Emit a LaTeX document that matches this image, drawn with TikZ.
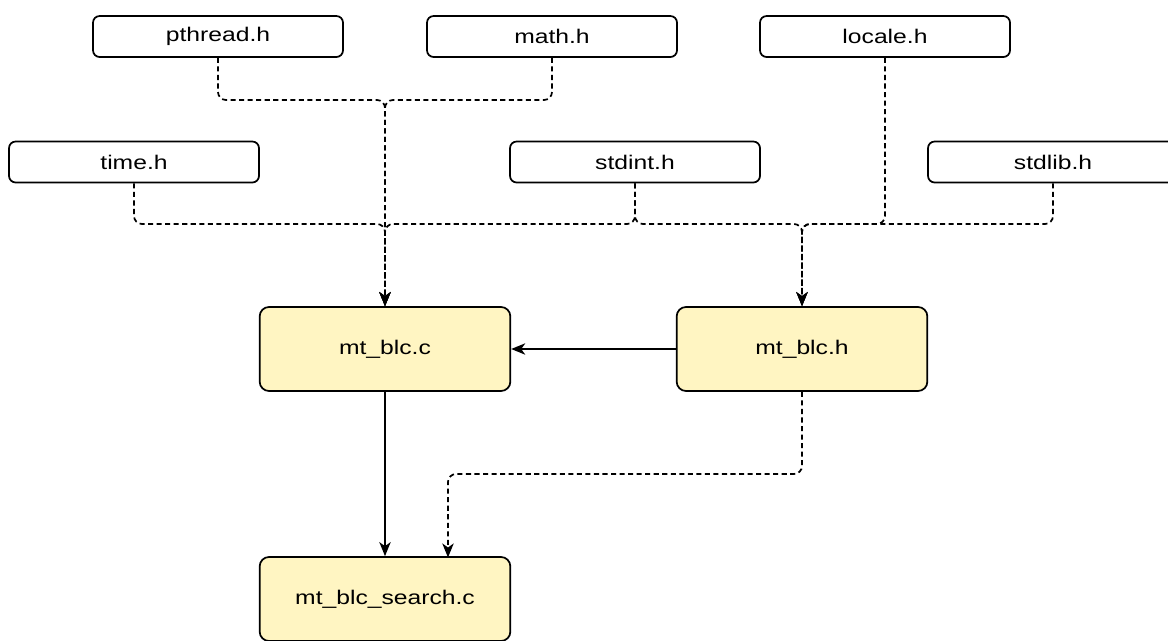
\documentclass[tikz,border=0pt]{standalone}
\usepackage{fontspec}
\setmainfont{Liberation Sans}[FakeStretch=1.25]
\usetikzlibrary{arrows.meta}
\definecolor{mainfill}{HTML}{FFF5C2}
\begin{document}
\begin{tikzpicture}[x=0.75pt,y=-0.75pt,
  hdr/.style={draw, line width=1.3pt, rounded corners=5pt, minimum width=187.5pt, minimum height=30.75pt, inner sep=0pt, font=\fontsize{14.8pt}{17pt}\selectfont},
  mainbox/.style={draw, line width=1.3pt, rounded corners=7pt, fill=mainfill, minimum width=188pt, minimum height=63pt, inner sep=0pt, font=\fontsize{14.8pt}{17pt}\selectfont},
  dep/.style={line width=1.3pt, dash pattern=on 3.8pt off 2.6pt, rounded corners=6pt, -{Stealth[length=10.5pt,width=8.5pt,inset=3pt]}},
  sol/.style={line width=1.3pt, -{Stealth[length=10.5pt,width=8.5pt,inset=3pt]}}
]
\useasboundingbox (0,0) rectangle (1168,640);
% header boxes
\node[hdr] (pthread) at (218,36.5) {pthread.h};
\node[hdr] (math) at (552,36.5) {math.h};
\node[hdr] (locale) at (885,36.5) {locale.h};
\node[hdr] (time) at (134,162) {time.h};
\node[hdr] (stdint) at (635,162) {stdint.h};
\node[hdr] (stdlib) at (1053,162) {stdlib.h};
% main boxes
\node[mainbox] (mtc) at (385,349) {mt\_blc.c};
\node[mainbox] (mth) at (802,349) {mt\_blc.h};
\node[mainbox] (search) at (385,599) {mt\_blc\_search.c};
% junctions
\coordinate (ja) at (385,100);
\coordinate (jb) at (385,224);
\coordinate (jc) at (802,224);
\coordinate (jd) at (448,474);
\coordinate (se) at (448,557.5);
% dashed dependencies
\draw[dep] (pthread.south) |- (ja) -- (mtc.north);
\draw[dep] (math.south) |- (ja) -- (mtc.north);
\draw[dep] (time.south) |- (jb) -- (mtc.north);
\draw[dep] (stdint.south) |- (jb) -- (mtc.north);
\draw[dep] (stdint.south) |- (jc) -- (mth.north);
\draw[dep] (locale.south) |- (jc) -- (mth.north);
\draw[dep] (stdlib.south) |- (jc) -- (mth.north);
\draw[dep] (mth.south) |- (jd) -- (se);
% solid dependencies
\draw[sol] (mth.west) -- (mtc.east);
\draw[sol] (mtc.south) -- (search.north);
\end{tikzpicture}
\end{document}
